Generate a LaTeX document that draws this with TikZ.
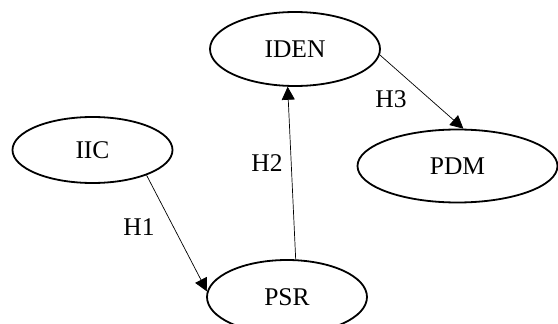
\documentclass[tikz,border=0pt]{standalone}
\usepackage{fontspec}
\setmainfont{Liberation Serif}
\usetikzlibrary{shapes.geometric,arrows.meta}
\begin{document}
\begin{tikzpicture}[x=1pt,y=-1pt,
  state/.style={ellipse,draw,line width=1.8pt,inner sep=0pt,font=\fontsize{25.5}{28}\selectfont},
  hyp/.style={line width=0.7pt,-{Triangle[length=13pt,width=13pt]}},
  lab/.style={font=\fontsize{25.5}{28}\selectfont,inner sep=0pt}]
\useasboundingbox (0,0) rectangle (558,324);
\clip (0,0) rectangle (558,324);
\node[state,minimum width=170pt,minimum height=74pt] (IDEN) at (295,49) {IDEN};
\node[state,minimum width=160pt,minimum height=66pt] (IIC) at (92.5,150) {IIC};
\node[state,minimum width=200pt,minimum height=73pt] (PDM) at (457.5,166) {PDM};
\node[state,minimum width=160pt,minimum height=74pt] (PSR) at (287,297) {PSR};
\draw[hyp] (IIC.-25) -- (PSR.176);
\draw[hyp] (PSR.77) -- (IDEN.-101);
\draw[hyp] (IDEN.-4) -- (PDM.81);
\node[lab] (h1) at (139,227) {H1};
\node[lab] (h2) at (267,163) {H2};
\node[lab] (h3) at (391,99) {H3};
\end{tikzpicture}
\end{document}
